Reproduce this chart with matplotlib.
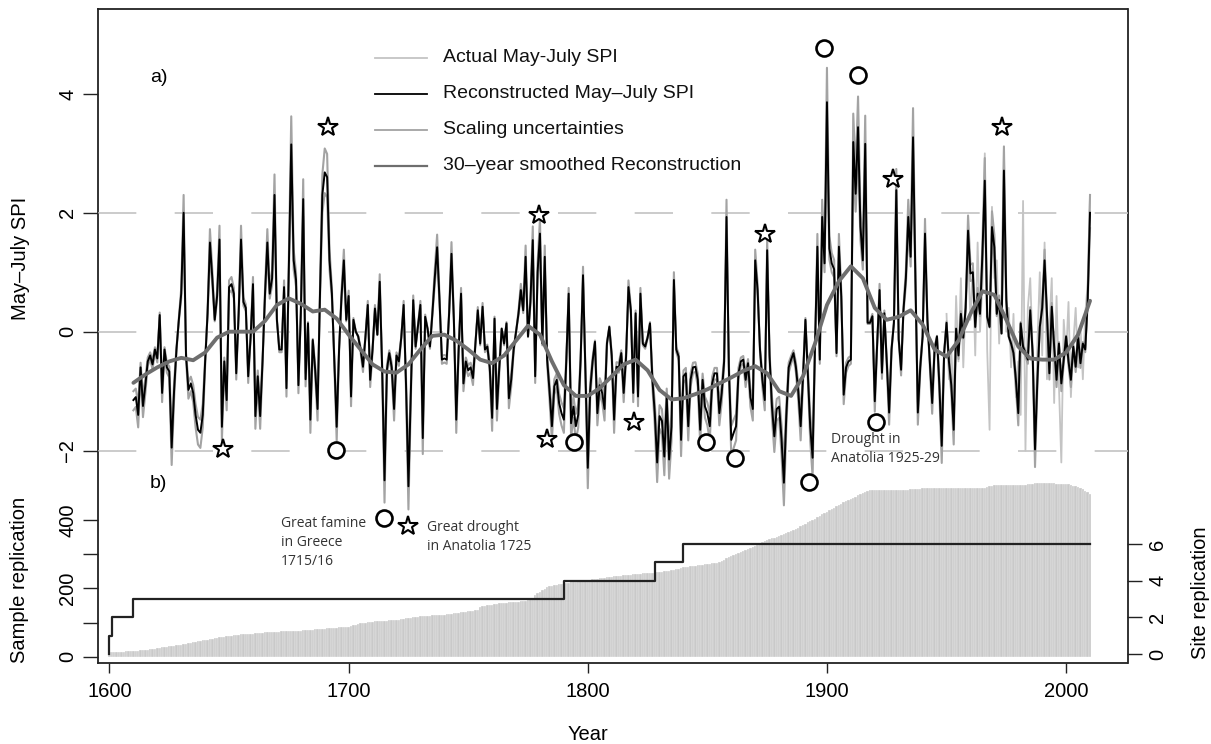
import numpy as np
import matplotlib.pyplot as plt
from matplotlib.lines import Line2D

# reconstructed May-July SPI, 1610-2010
recon_years = np.arange(1610, 2011)
recon_spi = [
    -1.15, -1.1, -1.4, -0.6, -1.25, -0.9, -0.5, -0.4, -0.55, -0.3,
    -0.45, 0.28, -1.03, -0.3, -0.6, -0.67, -1.95, -1.0, -0.3, 0.2,
    0.64, 2.0, -0.4, -0.98, -0.87, -1.03, -1.4, -1.65, -1.7, -1.4,
    -0.5, 0.3, 1.5, 0.9, 0.2, 0.6, 1.55, -1.6, -0.5, -1.15,
    0.75, 0.8, 0.64, -0.7, 0.3, 1.55, 0.5, 0.4, -0.75, -0.1,
    0.8, -1.42, -0.75, -1.42, -0.5, 0.6, 1.5, 0.64, 0.9, 2.3,
    0.2, -0.3, -0.3, 0.75, -0.95, 1.1, 3.15, 1.2, 0.87, -0.9,
    0.3, 2.23, -0.8, 0.14, -1.48, -0.14, -0.64, -1.3, 0.6, 2.3,
    2.68, 2.6, 1.2, 0.64, -0.5, -1.6, -0.3, 0.58, 1.2, 0.2,
    0.6, -1.09, 0.2, 0.0, -0.08, -0.3, -0.59, -0.1, 0.45, -0.81,
    -0.3, 0.39, -0.05, 0.84, -0.6, -2.5, -0.64, -0.36, -0.6, -1.3,
    -0.4, -0.5, -0.1, 0.45, -0.9, -2.6, -1.03, 0.53, -0.25, 0.1,
    0.45, -1.79, 0.25, 0.05, -0.25, 0.3, 0.9, 1.42, 0.53, -0.47,
    -0.45, -0.47, 0.3, 1.31, 0.2, -1.48, -0.3, 0.64, -0.87, -0.5,
    -0.65, -0.6, -0.78, -0.2, 0.36, -0.2, 0.42, -0.3, -0.25, -0.6,
    -1.45, 0.22, -1.3, -0.6, 0.05, -0.2, 0.14, -1.12, -0.8, -0.3,
    0.0, 0.3, 0.7, 0.36, 1.26, -0.08, 0.5, 1.54, -0.75, 1.0,
    1.65, -0.2, 1.26, -0.47, -1.0, -1.59, -0.92, -0.81, -1.2, -1.37,
    -1.48, -0.5, 0.64, -1.54, -1.26, -1.59, -1.4, -0.47, 0.95, -0.64,
    -2.29, -0.98, -0.5, -0.17, -1.37, -0.9, -1.03, -1.3, -0.2, 0.08,
    -0.4, -1.48, -0.59, -0.6, -0.36, -1.03, -0.42, 0.75, 0.36, -1.03,
    0.31, -1.09, 0.64, -0.2, -0.25, -0.1, 0.14, -0.8, -1.37, -2.2,
    -1.42, -1.5, -2.1, -1.1, -2.15, -1.6, 0.87, -0.3, -0.42, -1.82,
    -0.75, -0.7, -1.59, -0.8, -0.6, -0.59, -0.81, -1.65, -0.81, -1.26,
    -1.37, -1.59, -0.87, -0.7, -0.7, -1.37, -1.03, -0.5, 1.93, -0.64,
    -1.82, -1.7, -1.59, -0.7, -0.5, -0.47, -0.81, -0.53, -1.1, -1.3,
    1.2, 0.7, -0.3, -0.81, -1.15, 1.37, -0.4, -1.26, -1.76, -1.3,
    -1.26, -1.8, -2.54, -1.42, -0.6, -0.47, -0.36, -0.59, -1.0, -1.59,
    -0.75, 0.2, -0.69, -1.6, -2.12, -0.25, 1.43, -0.47, 1.93, 1.15,
    3.86, 1.4, 1.15, 1.05, -0.36, 1.43, 0.59, -1.06, -0.6, -0.5,
    -0.47, 3.19, 2.32, 3.44, 1.77, 1.2, 3.16, 0.15, 0.15, 0.26,
    -1.17, -0.2, 0.7, -0.69, 0.31, -0.5, -1.36, -0.3, 0.15, 2.38,
    -0.13, -0.64, 0.37, 0.9, 1.93, 1.26, 3.27, 0.87, -1.36, -0.6,
    -0.08, 1.65, 0.2, -0.5, -1.2, -0.3, -0.08, -0.9, -1.92, -0.36,
    0.15, -0.5, -0.9, -1.65, 0.05, -0.4, 0.3, -0.1, 0.4, 1.7,
    0.98, 1.0, 0.08, 0.64, 0.3, 1.3, 2.54, 0.25, 0.08, 1.76,
    1.42, 0.3, 0.53, -0.03, 2.71, 0.53, -0.08, -0.2, -0.36, -0.81,
    -1.37, 0.14, -0.25, -0.36, -0.47, 0.36, -0.36, -1.98, -0.81, 0.08,
    0.4, 1.2, 0.3, -0.7, 0.42, -0.25, -0.81, -0.2, -0.87, -0.47,
    -0.08, -0.5, -0.81, -0.25, -0.59, -0.08, -0.53, -0.2, -0.3, 0.5,
    2.0,
]

# instrumental May-July SPI, 1950-2010
actual_years = np.arange(1950, 2011)
actual_spi = [
    0.3, -0.8, -0.3, -1.2, 0.6, -0.5, 0.9, -0.6, 0.5, 1.3,
    0.2, 1.1, -0.4, 1.5, 0.0, 0.8, 3.0, -0.3, -1.65, 2.1,
    0.9, 1.2, -0.2, 0.7, 3.1, 0.0, 0.4, -0.6, 0.3, -1.1,
    -0.5, -1.4, 2.2, -2.0, 0.4, 0.9, -0.3, -2.1, -0.2, 1.0,
    -0.4, 1.5, -0.8, 0.1, 0.9, -1.2, 0.6, -0.9, -2.2, 0.2,
    -0.4, 0.5, -1.1, -0.2, 0.4, -0.6, 0.1, -0.8, 0.3, 0.8,
    2.3,
]

# scaling factors for the uncertainty envelope
scale_factors = [0.87, 1.15]

# 30-year smoothed reconstruction (read every 5 years)
smooth_years = np.arange(1610, 2011, 5)
smooth_spi = [
    -0.86, -0.72, -0.6, -0.5, -0.44, -0.48, -0.35, -0.1, 0.0, 0.0,
    0.0, 0.18, 0.45, 0.56, 0.47, 0.34, 0.37, 0.22, -0.05, -0.3,
    -0.55, -0.67, -0.69, -0.55, -0.3, -0.07, -0.05, -0.15, -0.3, -0.47,
    -0.53, -0.4, -0.15, 0.1, -0.05, -0.5, -0.9, -1.08, -1.08, -0.95,
    -0.75, -0.55, -0.47, -0.65, -0.98, -1.14, -1.12, -1.05, -0.97, -0.87,
    -0.77, -0.66, -0.58, -0.7, -1.0, -1.08, -0.75, -0.2, 0.45, 0.85,
    1.1, 0.9, 0.4, 0.2, 0.25, 0.36, 0.12, -0.3, -0.42, -0.15,
    0.3, 0.68, 0.62, 0.2, -0.25, -0.45, -0.47, -0.47, -0.35, -0.05,
    0.52,
]

# events
star_years = [1647.6, 1691.5, 1724.7, 1779.4, 1783.1, 1819.4, 1874.3, 1927.8, 1973.3]
star_spi = [-1.98, 3.44, -3.27, 1.96, -1.81, -1.52, 1.65, 2.57, 3.44]
circle_years = [1694.8, 1714.7, 1794.2, 1849.6, 1861.4, 1892.6, 1898.9, 1912.8, 1920.7]
circle_spi = [-1.99, -3.14, -1.86, -1.86, -2.12, -2.52, 4.78, 4.32, -1.52]

# sample replication (number of samples), 1600-2010
samp_years = np.arange(1600, 2011)
samp_counts = [
    13, 13, 14, 14, 15, 15, 15, 16, 16, 17,
    17, 18, 18, 19, 20, 20, 21, 22, 23, 24,
    25, 26, 27, 28, 29, 30, 31, 32, 33, 34,
    35, 36, 38, 39, 41, 42, 44, 45, 47, 48,
    49, 50, 52, 53, 54, 55, 57, 58, 59, 60,
    61, 62, 63, 64, 65, 66, 66, 67, 67, 68,
    68, 69, 69, 70, 70, 71, 71, 72, 72, 73,
    73, 73, 74, 74, 74, 75, 75, 75, 75, 76,
    76, 77, 77, 78, 78, 79, 80, 80, 81, 82,
    82, 83, 83, 84, 85, 85, 86, 86, 87, 88,
    88, 90, 92, 94, 96, 98, 99, 100, 101, 102,
    103, 104, 104, 105, 105, 106, 106, 107, 107, 108,
    108, 109, 110, 111, 112, 113, 114, 115, 116, 117,
    118, 118, 119, 120, 120, 121, 121, 122, 122, 123,
    123, 124, 125, 126, 127, 128, 129, 130, 131, 132,
    133, 134, 135, 136, 137, 145, 148, 150, 151, 152,
    153, 154, 155, 156, 157, 158, 158, 159, 159, 160,
    160, 161, 162, 163, 164, 166, 168, 172, 180, 186,
    190, 195, 199, 203, 206, 208, 210, 211, 212, 213,
    214, 216, 217, 218, 219, 220, 221, 222, 223, 224,
    225, 226, 227, 228, 229, 230, 231, 232, 233, 234,
    235, 236, 237, 238, 238, 239, 240, 240, 241, 242,
    242, 243, 243, 244, 244, 245, 245, 246, 246, 247,
    248, 249, 250, 251, 252, 253, 254, 256, 258, 260,
    262, 263, 264, 265, 266, 267, 268, 269, 270, 271,
    272, 273, 274, 275, 276, 278, 281, 284, 288, 292,
    296, 299, 302, 305, 308, 311, 314, 317, 320, 323,
    326, 329, 332, 335, 338, 341, 344, 347, 349, 351,
    353, 356, 359, 362, 365, 368, 371, 374, 378, 382,
    386, 390, 394, 397, 401, 405, 409, 413, 417, 421,
    425, 429, 433, 437, 441, 445, 449, 453, 456, 459,
    462, 465, 469, 473, 477, 481, 484, 487, 488, 488,
    488, 488, 488, 488, 489, 489, 489, 489, 489, 489,
    489, 489, 490, 490, 490, 491, 491, 492, 492, 493,
    494, 495, 495, 496, 496, 496, 496, 496, 495, 495,
    495, 495, 494, 494, 494, 494, 494, 494, 494, 494,
    494, 494, 494, 494, 494, 495, 496, 498, 500, 502,
    503, 503, 503, 503, 503, 503, 503, 503, 503, 503,
    503, 503, 503, 504, 505, 506, 507, 508, 508, 509,
    509, 509, 508, 508, 508, 508, 507, 507, 507, 507,
    506, 505, 504, 502, 500, 498, 495, 491, 487, 483,
    478,
]

# site replication (number of sites), step changes
site_years = [1600, 1600, 1601, 1610, 1790, 1828, 1840, 2010]
site_counts = [0, 1, 2, 3, 4, 5, 6, 6]

W, H = 1211, 744
plt.rcParams['font.family'] = ['Liberation Sans', 'DejaVu Sans']

def fx(px):
    return px / W

def fy(py):
    return 1 - py / H

fig = plt.figure(figsize=(W / 100, H / 100), dpi=100)
rect = [fx(97.7), fy(663), fx(1127.5) - fx(97.7), fy(9) - fy(663)]
xlim = (1595.07, 2025.67)

# bottom panel: sample replication bars
ax_bot = fig.add_axes(rect)
ax_bot.bar(samp_years, samp_counts, width=1.0, color='#c9c9c9', edgecolor='white',
           linewidth=0.2, zorder=1)
ax_bot.set_xlim(xlim)
ax_bot.set_ylim(-18.5, 1899.4)
ax_bot.set_xticks([1600, 1700, 1800, 1900, 2000])
ax_bot.set_yticks([0, 100, 200, 300, 400])
ax_bot.set_yticklabels(['0', '', '200', '', '400'])
for s in ax_bot.spines.values():
    s.set_linewidth(1.3)
    s.set_color('#222222')
ax_bot.tick_params(axis='x', length=7.5, width=1.0, pad=6, labelsize=14.5, color='#222222')
ax_bot.tick_params(axis='y', length=10.8, width=1.0, pad=4, labelsize=14.5, labelrotation=90, color='#222222')
for lab in ax_bot.get_yticklabels():
    lab.set_va('center')

# site replication step line
ax_site = ax_bot.twinx()
ax_site.step(site_years, site_counts, where='post', color='#222222', lw=1.6, zorder=2)
ax_site.set_ylim(-0.49, 35.19)
ax_site.set_yticks([0, 2, 4, 6])
for s in ax_site.spines.values():
    s.set_visible(False)
ax_site.tick_params(axis='y', length=10.8, width=1.0, pad=4, labelsize=14.5, labelrotation=90, color='#222222')
for lab in ax_site.get_yticklabels():
    lab.set_va('center')

# top panel: SPI
ax_top = fig.add_axes(rect)
ax_top.patch.set_visible(False)
for s in ax_top.spines.values():
    s.set_visible(False)
ax_top.set_xlim(xlim)
ax_top.set_ylim(-5.573, 5.428)
ax_top.set_yticks([-2, 0, 2, 4])
ax_top.tick_params(axis='x', bottom=False, labelbottom=False)
ax_top.tick_params(axis='y', length=10.8, width=1.0, pad=4, labelsize=14.5, labelrotation=90, color='#222222')
for lab in ax_top.get_yticklabels():
    lab.set_va('center')

for g in [-2, 0, 2]:
    ax_top.axhline(g, color='#c2c2c2', lw=1.2, dashes=(23, 23), zorder=1)

ax_top.plot(actual_years, actual_spi, color='#c4c4c4', lw=1.3, zorder=2)
recon_arr = np.array(recon_spi)
for f in scale_factors:
    ax_top.plot(recon_years, recon_arr * f, color='#a3a3a3', lw=1.5, zorder=3)
ax_top.plot(recon_years, recon_spi, color='black', lw=1.4, zorder=4)
ax_top.plot(smooth_years, smooth_spi, color='#6e6e6e', lw=2.8, zorder=5,
            solid_joinstyle='round', solid_capstyle='round')

ax_top.plot(star_years, star_spi, linestyle='none', marker='*', markersize=15,
            mfc='white', mec='black', mew=1.5, zorder=7, clip_on=False)
ax_top.plot(circle_years, circle_spi, linestyle='none', marker='o', markersize=11.5,
            mfc='white', mec='black', mew=1.9, zorder=7, clip_on=False)

# legend
legend_items = [
    ('Actual May-July SPI', '#c4c4c4', 1.3),
    ('Reconstructed May\u2013July SPI', 'black', 1.3),
    ('Scaling uncertainties', '#a3a3a3', 1.3),
    ('30\u2013year smoothed Reconstruction', '#6e6e6e', 1.6),
]
for i, (lab, col, lw) in enumerate(legend_items):
    yy = 58 + 36 * i
    fig.add_artist(Line2D([fx(375), fx(427)], [fy(yy), fy(yy)], color=col, lw=lw))
    fig.text(fx(443), fy(yy), lab, fontsize=14, va='center', ha='left', color='#111111')

# panel letters and axis labels
fig.text(fx(150), fy(77), 'a)', fontsize=14, va='center', ha='left')
fig.text(fx(150), fy(483), 'b)', fontsize=14, va='center', ha='left')
fig.text(fx(20.5), fy(258), 'May\u2013July SPI', fontsize=14.5, rotation=90, va='center', ha='center')
fig.text(fx(19.5), fy(580), 'Sample replication', fontsize=14.5, rotation=90, va='center', ha='center')
fig.text(fx(1200), fy(593), 'Site replication', fontsize=14.5, rotation=90, va='center', ha='center')
fig.text(fx(588), fy(735), 'Year', fontsize=14.5, va='center', ha='center')

# event annotations
ann_font = ['Open Sans', 'DejaVu Sans']
fig.text(fx(281), fy(516), 'Great famine\nin Greece\n1715/16', fontsize=10, family=ann_font,
         va='top', ha='left', color='#333333', linespacing=1.35)
fig.text(fx(427), fy(520), 'Great drought\nin Anatolia 1725', fontsize=10, family=ann_font,
         va='top', ha='left', color='#333333', linespacing=1.35)
fig.text(fx(831), fy(432), 'Drought in\nAnatolia 1925-29', fontsize=10, family=ann_font,
         va='top', ha='left', color='#333333', linespacing=1.35)

fig.savefig('out.png', dpi=100)
